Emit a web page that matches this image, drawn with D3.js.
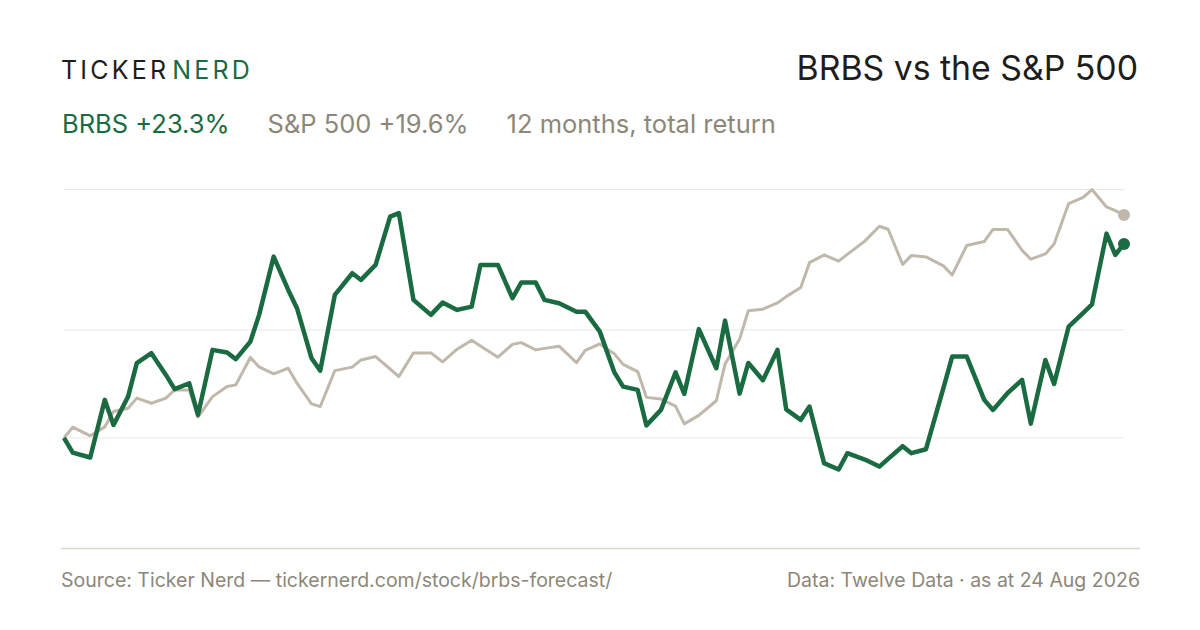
<html>
<head>
<meta charset="utf-8">
<script src="https://d3js.org/d3.v7.min.js"></script>
<style>
  body { margin: 0; background: #fff; }
  svg { display: block; font-family: Inter, "Noto Sans", sans-serif; }
</style>
</head>
<body>
<svg id="chart" width="1200" height="630"></svg>
<script>
// every third trading day, plus the last session
const dates = [
  '2025-08-25','2025-08-28','2025-09-03','2025-09-08','2025-09-11','2025-09-16','2025-09-19','2025-09-24',
  '2025-09-29','2025-10-02','2025-10-07','2025-10-10','2025-10-15','2025-10-20','2025-10-23','2025-10-28',
  '2025-10-31','2025-11-05','2025-11-10','2025-11-13','2025-11-18','2025-11-21','2025-11-26','2025-12-02',
  '2025-12-05','2025-12-10','2025-12-15','2025-12-18','2025-12-23','2025-12-29','2026-01-02','2026-01-07',
  '2026-01-12','2026-01-15','2026-01-21','2026-01-26','2026-01-29','2026-02-03','2026-02-06','2026-02-11',
  '2026-02-17','2026-02-20','2026-02-25','2026-03-02','2026-03-05','2026-03-10','2026-03-13','2026-03-18',
  '2026-03-23','2026-03-26','2026-03-31','2026-04-06','2026-04-09','2026-04-14','2026-04-17','2026-04-22',
  '2026-04-27','2026-04-30','2026-05-05','2026-05-08','2026-05-13','2026-05-18','2026-05-21','2026-05-27',
  '2026-06-01','2026-06-04','2026-06-09','2026-06-12','2026-06-17','2026-06-23','2026-06-26','2026-07-01',
  '2026-07-07','2026-07-10','2026-07-15','2026-07-20','2026-07-23','2026-07-28','2026-07-31','2026-08-05',
  '2026-08-10','2026-08-13','2026-08-18','2026-08-21','2026-08-24'
]

// % change since start
const brbs = [
  0, -1.36, -1.82, 3.52, 1.20, 3.82, 6.92, 7.84, 5.83, 4.51,
  5.06, 2.13, 8.15, 7.90, 7.29, 8.92, 11.39, 16.79, 13.70, 12.01,
  7.38, 6.23, 13.24, 15.25, 14.63, 16.02, 20.49, 20.81, 12.78, 11.39,
  12.53, 11.85, 12.16, 16.02, 16.02, 12.94, 14.38, 14.38, 12.78, 12.47,
  11.69, 11.69, 9.84, 6.06, 4.75, 4.44, 1.16, 2.59, 6.06, 4.07,
  10.07, 6.45, 10.86, 4.10, 6.94, 5.34, 8.15, 2.64, 1.67, 2.90,
  -2.34, -2.93, -1.42, -2.01, -2.66, -1.94, -0.77, -1.42, -1.05, 4.63,
  7.53, 7.53, 3.52, 2.59, 4.14, 5.37, 1.32, 7.22, 5.00, 10.31,
  11.57, 12.36, 18.92, 16.94, 17.96
]

const spx = [
  0, 0.99, 0.19, 1.02, 2.44, 2.75, 3.68, 3.21, 3.68, 4.44,
  4.44, 1.92, 3.82, 4.75, 4.91, 7.45, 6.57, 5.93, 6.45, 5.06,
  3.15, 2.90, 6.23, 6.55, 7.22, 7.53, 6.38, 5.68, 7.87, 7.87,
  7.04, 8.21, 9.05, 8.52, 7.47, 8.66, 8.82, 8.15, 8.29, 8.49,
  6.97, 8.10, 8.70, 7.78, 6.81, 6.14, 3.75, 3.59, 2.94, 1.30,
  2.08, 3.44, 6.83, 9.15, 11.78, 11.92, 12.50, 13.08, 13.92, 16.23,
  16.94, 16.37, 16.99, 18.22, 19.60, 19.32, 16.06, 16.90, 16.76, 15.93,
  15.09, 17.82, 18.18, 19.30, 19.31, 17.37, 16.55, 17.04, 17.96, 21.70,
  22.27, 23.00, 21.39, 21.05, 20.65
]

const gridValues = [0, 10, 23]

const legend = [
  { text: 'BRBS +23.3%', color: '#1b6b42' },
  { text: 'S&P 500 +19.6%', color: '#8d8779' },
  { text: '12 months, total return', color: '#8d8779' }
]

const green = '#1b6b42'
const sand = '#bfb8ab'
const muted = '#8d8779'

const parse = d3.utcParse('%Y-%m-%d')
const days = dates.map(parse)

const x = d3.scaleUtc()
  .domain([days[0], days[days.length - 1]])
  .range([64, 1124])

const y = d3.scaleLinear()
  .domain([-10.2, 23.05])
  .range([548, 189])

const svg = d3.select('#chart')

// header
const brand = svg.append('text')
  .attr('x', 61).attr('y', 79)
  .attr('font-size', 25)
  .attr('letter-spacing', '3.2px')
brand.append('tspan').attr('fill', '#1d1d1b').text('TICKER')
brand.append('tspan').attr('fill', green).attr('dx', 3).text('NERD')

svg.append('text')
  .attr('x', 1138).attr('y', 80)
  .attr('text-anchor', 'end')
  .attr('font-size', 33.8)
  .attr('fill', '#1d1d1b')
  .text('BRBS vs the S&P 500')

let lx = 62
legend.forEach((d) => {
  const t = svg.append('text')
    .attr('x', lx).attr('y', 133)
    .attr('font-size', 25.5)
    .attr('fill', d.color)
    .text(d.text)
  lx += t.node().getComputedTextLength() + 38
})

// grid
svg.append('g')
  .selectAll('line')
  .data(gridValues)
  .join('line')
  .attr('x1', 64).attr('x2', 1124)
  .attr('y1', (d) => y(d)).attr('y2', (d) => y(d))
  .attr('stroke', '#ece9e3')
  .attr('stroke-width', 1)

svg.append('line')
  .attr('x1', 61).attr('x2', 1140)
  .attr('y1', 548.5).attr('y2', 548.5)
  .attr('stroke', '#dcd7cd')
  .attr('stroke-width', 1.5)

const line = d3.line()
  .x((d, i) => x(days[i]))
  .y((d) => y(d))

svg.append('path')
  .datum(spx)
  .attr('fill', 'none')
  .attr('stroke', sand)
  .attr('stroke-width', 3)
  .attr('stroke-linejoin', 'round')
  .attr('d', line)

svg.append('path')
  .datum(brbs)
  .attr('fill', 'none')
  .attr('stroke', green)
  .attr('stroke-width', 4.5)
  .attr('stroke-linejoin', 'round')
  .attr('d', line)

const last = days.length - 1
svg.append('circle')
  .attr('cx', x(days[last])).attr('cy', y(spx[last]))
  .attr('r', 6).attr('fill', sand)
svg.append('circle')
  .attr('cx', x(days[last])).attr('cy', y(brbs[last]))
  .attr('r', 6).attr('fill', green)

// footer
svg.append('text')
  .attr('x', 61).attr('y', 587)
  .attr('font-size', 19.5)
  .attr('fill', muted)
  .text('Source: Ticker Nerd — tickernerd.com/stock/brbs-forecast/')

svg.append('text')
  .attr('x', 1140).attr('y', 587)
  .attr('text-anchor', 'end')
  .attr('font-size', 19.5)
  .attr('fill', muted)
  .text('Data: Twelve Data · as at 24 Aug 2026')
</script>
</body>
</html>
